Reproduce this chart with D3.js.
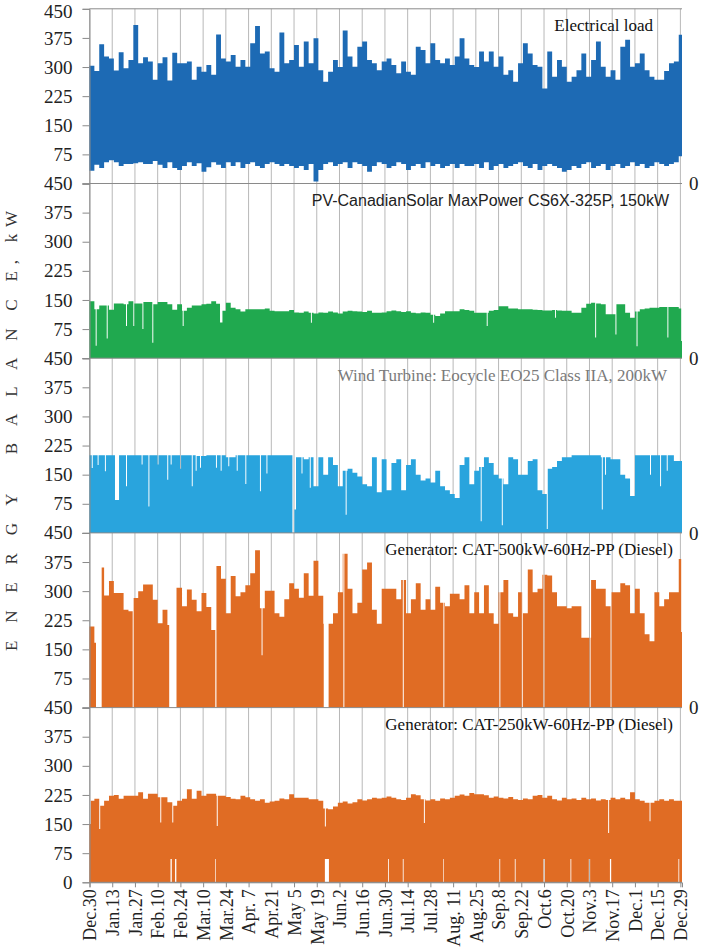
<!DOCTYPE html>
<html><head><meta charset="utf-8">
<script src="https://cdn.jsdelivr.net/npm/d3@7"></script>
<style>body{margin:0;background:#fff}svg{display:block}</style>
</head><body>
<svg id="chart" width="709" height="949"></svg>
<script>
// ---------- DATA ----------
const dateLabels = ["Dec.30","Jan.13","Jan.27","Feb.10","Feb.24","Mar.10","Mar.24","Apr. 7","Apr.21","May 5","May 19","Jun.2","Jun.16","Jun.30","Jul.14","Jul.28","Aug. 11","Aug.25","Sep.8","Sep.22","Oct.6","Oct.20","Nov.3","Nov.17","Dec.1","Dec.15","Dec.29"];
const tickDays = [0,14,28,42,56,70,84,98,112,126,140,154,168,182,196,210,224,238,252,266,280,294,308,322,336,350,364];
const yTicks = [0,75,150,225,300,375,450];
const binDays = 3;   // each value below = envelope of a 3-day span
const endDay = 365;

const loadMax = [303,290,359,327,322,291,338,297,318,408,
 310,325,314,267,310,325,265,337,310,310,
 314,267,301,288,305,280,384,322,314,331,
 301,318,301,361,406,335,340,297,288,389,
 310,318,357,301,366,310,374,292,262,288,
 318,300,394,327,301,352,366,318,310,292,
 314,322,305,284,314,288,280,352,344,310,
 361,318,310,322,305,327,374,322,305,300,
 340,314,340,301,327,280,292,262,310,361,
 335,305,301,245,340,275,318,301,262,275,
 292,335,275,318,366,301,275,292,267,352,
 370,301,310,335,292,275,267,267,290,310,
 314,383];
const loadMin = [33,48,40,55,60,55,45,50,50,52,
 55,50,50,58,48,40,55,40,35,45,
 55,45,52,30,42,55,48,40,55,45,
 55,40,50,55,45,40,50,55,50,45,
 50,45,40,45,35,50,5,35,50,55,
 45,50,55,40,55,50,45,30,45,55,
 50,40,45,55,50,35,45,50,40,55,
 45,50,40,45,50,40,50,45,45,50,
 40,55,35,45,50,40,45,50,55,45,
 40,50,35,45,50,45,40,30,35,45,
 40,50,55,40,45,50,35,45,50,40,
 45,55,45,50,40,45,55,50,45,50,
 55,70];

const pvMax = [147,126,136,136,125,141,141,139,147,141,
 141,145,145,139,145,145,139,125,139,122,
 130,136,136,139,140,147,140,122,143,130,
 126,120,126,126,126,126,128,122,121,121,
 121,124,118,117,120,117,115,118,117,120,
 118,115,120,122,121,120,119,122,117,117,
 118,121,123,121,119,121,117,116,118,117,
 112,109,115,121,121,121,126,124,122,117,
 117,117,122,124,134,134,128,128,126,126,
 126,125,124,123,123,124,123,122,122,117,
 117,130,140,143,141,139,113,113,139,139,
 117,104,120,126,128,130,130,132,132,132,
 132,128];
// [day, value, width in days]
const pvDips = [[3.8,32],[10.6,51],[22.5,83],[27,83],[32.6,75],[38.7,40],[57.4,83],[80.4,92,1.5],[136.4,91],[211.7,91],[244.7,83],[286.8,104],[311.5,53],[324,61],[337,31],[356,53],[364.5,44,0.5]];

const windMax = [200,200,200,200,200,200,200,200,200,200,
 200,200,200,200,200,200,200,200,200,200,
 200,200,198,198,200,200,200,200,195,195,
 200,200,200,200,200,200,200,200,200,200,
 200,200,195,195,190,195,120,195,150,195,
 175,120,160,165,155,145,125,120,195,105,
 190,110,180,190,110,175,190,150,135,140,
 130,160,120,110,100,90,175,195,125,160,
 170,195,180,150,140,125,195,190,150,150,
 185,190,110,100,165,170,185,195,195,200,
 200,200,200,200,200,195,195,190,190,150,
 140,95,200,200,200,200,200,200,200,200,
 185,185];
const windDips = [[1.4,167],[5,175],[9.5,159],[15.7,85,2.5],[22.5,120],[32.1,176],[36.3,68],[41.9,176],[47.9,137],[50,176],[55.8,165],[63,120],[65.4,160],[68.1,168],[77.9,168],[80.8,160],[85.5,172],[90.7,160],[96,126],[105,107],[109,153],[125,0,1.2],[126.2,60,1],[130.6,153],[135.7,116],[157.8,47],[241,30],[254,20],[281.7,10],[315.6,60],[317.6,150],[345.3,150],[351.5,120],[355.6,160]];

const gen500Max = [209,167,361,289,326,295,295,252,248,282,
 300,317,317,278,217,252,213,309,309,261,
 304,278,248,295,259,200,365,332,243,339,
 287,297,315,346,405,256,301,301,243,234,
 279,320,306,283,346,288,378,288,216,216,
 243,297,396,306,243,270,356,374,252,216,
 306,306,306,279,329,243,279,320,252,279,
 252,311,270,261,293,293,279,315,243,297,
 243,315,243,216,297,329,243,234,297,243,
 356,297,306,342,340,297,261,261,256,261,
 261,180,180,329,306,306,261,297,297,320,
 315,243,306,243,189,171,297,261,279,297,
 297,383];
const gen500Dips = [[4,0,3.5],[26.6,0],[49.1,0,4.5],[77.5,0,0.7],[106,135],[144.3,0,3],[156.4,0],[193,0],[218,0],[252.5,0],[266.3,0],[279.6,0,0.7],[308,0,0.7],[321,0],[364.5,195,0.5]];

const gen250Max = [210,215,197,210,223,225,215,223,223,223,
 232,215,228,228,219,219,206,197,210,215,
 240,215,236,223,228,228,223,223,220,215,
 214,223,219,214,210,214,205,208,210,216,
 214,227,218,218,218,214,214,210,190,188,
 195,205,208,203,206,214,211,214,218,216,
 218,221,218,214,212,218,227,224,214,211,
 214,210,216,214,218,223,226,223,230,227,
 227,224,218,221,218,216,220,214,212,216,
 214,223,225,218,223,214,211,218,214,216,
 212,218,214,216,211,214,212,218,214,218,
 214,232,214,210,205,205,210,214,210,214,
 210,210];
const gen250Dips = [[0,150,0.8],[6,137],[43.6,154],[51,154],[78.4,145],[145,144],[206,153],[319.5,127],[345,157]];
// [day, lower edge value, width]: white gaps at the bottom of the band
const gen250Gaps = [[49.9,60,0.8],[52.7,60,0.8],[77.5,60,0.4],[145,60,2.5],[184,60,0.5],[193,60,0.5],[218,60,0.4],[252.5,60,0.5],[262,60,0.5],[279.6,60,0.9],[296.3,60,0.5],[307.6,60,0.8],[320.6,60,0.8],[362.8,60,0.5]];

const panelTitles = ["Electrical load","PV-CanadianSolar MaxPower CS6X-325P, 150kW","Wind Turbine: Eocycle EO25 Class IIA, 200kW","Generator: CAT-500kW-60Hz-PP (Diesel)","Generator: CAT-250kW-60Hz-PP (Diesel)"];
const yTitle = "E N E R G Y   B A L A N C E, kW";

// ---------- LAYOUT / STYLE ----------
const W = 709, H = 949;
const left = 89.5, right = 682, top0 = 8.8, panelH = 174.7;
const serif = "'Liberation Serif','Times New Roman',serif";
const sans = "'Liberation Sans',Arial,sans-serif";
const panels = [
  {hi: loadMax, lo: loadMin, dips: [], gaps: [], color: "#1d6ab4", title: panelTitles[0], tx: 653, tColor: "#111", tFont: serif},
  {hi: pvMax, lo: null, dips: pvDips, gaps: [], color: "#20a94f", title: panelTitles[1], tx: 669, tColor: "#222", tFont: sans},
  {hi: windMax, lo: null, dips: windDips, gaps: [], color: "#29a4dd", title: panelTitles[2], tx: 667, tColor: "#7a7a7a", tFont: serif},
  {hi: gen500Max, lo: null, dips: gen500Dips, gaps: [], color: "#e06c24", title: panelTitles[3], tx: 673, tColor: "#111", tFont: serif},
  {hi: gen250Max, lo: null, dips: gen250Dips, gaps: gen250Gaps, color: "#e06c24", title: panelTitles[4], tx: 673, tColor: "#111", tFont: serif}
];

function buildSteps(hiBins, loBins, dips, gaps) {
  const bp = new Set();
  hiBins.forEach((_, i) => bp.add(i * binDays));
  dips.forEach(([d, v, w = 0.6]) => { bp.add(d); bp.add(+(d + w).toFixed(3)); });
  gaps.forEach(([d, v, w = 0.6]) => { bp.add(d); bp.add(+(d + w).toFixed(3)); });
  bp.add(endDay);
  const pts = [...bp].filter(d => d >= 0 && d <= endDay).sort((a, b) => a - b);
  return pts.map(d => {
    const bi = Math.min(hiBins.length - 1, Math.floor(d / binDays));
    let hi = hiBins[bi];
    let lo = loBins ? loBins[bi] : 0;
    dips.forEach(([s, v, w = 0.6]) => { if (d >= s && d < s + w - 1e-9) hi = Math.min(hi, v); });
    gaps.forEach(([s, v, w = 0.6]) => { if (d >= s && d < s + w - 1e-9) lo = Math.max(lo, v); });
    if (lo > hi) lo = hi;
    return {d, hi, lo};
  });
}

const svg = d3.select("#chart");
const x = d3.scaleLinear().domain([0, endDay]).range([left, right]);
const bottomAll = top0 + panelH * 5;

// vertical gridlines (behind data)
svg.append("g").selectAll("line").data(tickDays).join("line")
  .attr("x1", d => x(d)).attr("x2", d => x(d))
  .attr("y1", top0).attr("y2", bottomAll)
  .attr("stroke", "#b8b8b8").attr("stroke-width", 1);

panels.forEach((p, k) => {
  const pTop = top0 + k * panelH, pBot = pTop + panelH;
  const y = d3.scaleLinear().domain([0, 450]).range([pBot, pTop]);
  const pts = buildSteps(p.hi, p.lo, p.dips, p.gaps);
  const area = d3.area().x(d => x(d.d)).y0(d => y(d.lo)).y1(d => y(d.hi)).curve(d3.curveStepAfter);
  svg.append("path").datum(pts).attr("d", area).attr("fill", p.color);

  // baseline of panel
  svg.append("line").attr("x1", left).attr("x2", right).attr("y1", pBot).attr("y2", pBot)
    .attr("stroke", "#8a8a8a").attr("stroke-width", 1);

  // left axis
  const ax = d3.axisLeft(y).tickValues(yTicks).tickSize(7).tickPadding(10)
    .tickFormat(v => (v === 0 && k < 4) ? "" : String(v));
  const g = svg.append("g").attr("transform", `translate(${left},0)`).call(ax);
  g.select(".domain").attr("stroke", "#8a8a8a");
  g.selectAll(".tick line").attr("stroke", "#8a8a8a");
  g.selectAll("text").attr("font-family", serif).attr("font-size", 19).attr("fill", "#222");
  if (k === 0) g.selectAll(".tick text").filter(v => v === 450).attr("y", 3);

  // right zero label
  if (k < 4) {
    svg.append("text").attr("x", 689).attr("y", pBot).attr("dy", "0.35em")
      .attr("font-family", serif).attr("font-size", 19).attr("fill", "#222").text("0");
  }
  // title
  svg.append("text").attr("x", p.tx).attr("y", pTop + 22.5).attr("text-anchor", "end")
    .attr("font-family", p.tFont).attr("font-size", p.tFont === sans ? 16 : 17)
    .attr("fill", p.tColor).text(p.title);
});

// top border
svg.append("line").attr("x1", left).attr("x2", right).attr("y1", top0).attr("y2", top0)
  .attr("stroke", "#8a8a8a").attr("stroke-width", 1);

// bottom date axis
const xa = d3.axisBottom(x).tickValues(tickDays).tickSize(5).tickPadding(0)
  .tickFormat((d, i) => dateLabels[i]);
const gx = svg.append("g").attr("transform", `translate(0,${bottomAll})`).call(xa);
gx.select(".domain").attr("stroke", "#8a8a8a");
gx.selectAll(".tick line").attr("stroke", "#8a8a8a");
gx.selectAll("text")
  .attr("transform", "rotate(-90)")
  .attr("text-anchor", "end")
  .attr("x", -7).attr("y", 0).attr("dy", "0.35em")
  .attr("font-family", serif).attr("font-size", 18).attr("fill", "#222");

// y title
svg.append("text")
  .attr("transform", `translate(17,${(top0 + bottomAll) / 2 - 18}) rotate(-90)`)
  .attr("text-anchor", "middle")
  .attr("font-family", serif).attr("font-size", 17).attr("fill", "#333")
  .attr("letter-spacing", 6.8)
  .style("white-space", "pre")
  .text(yTitle);
</script>
</body></html>
